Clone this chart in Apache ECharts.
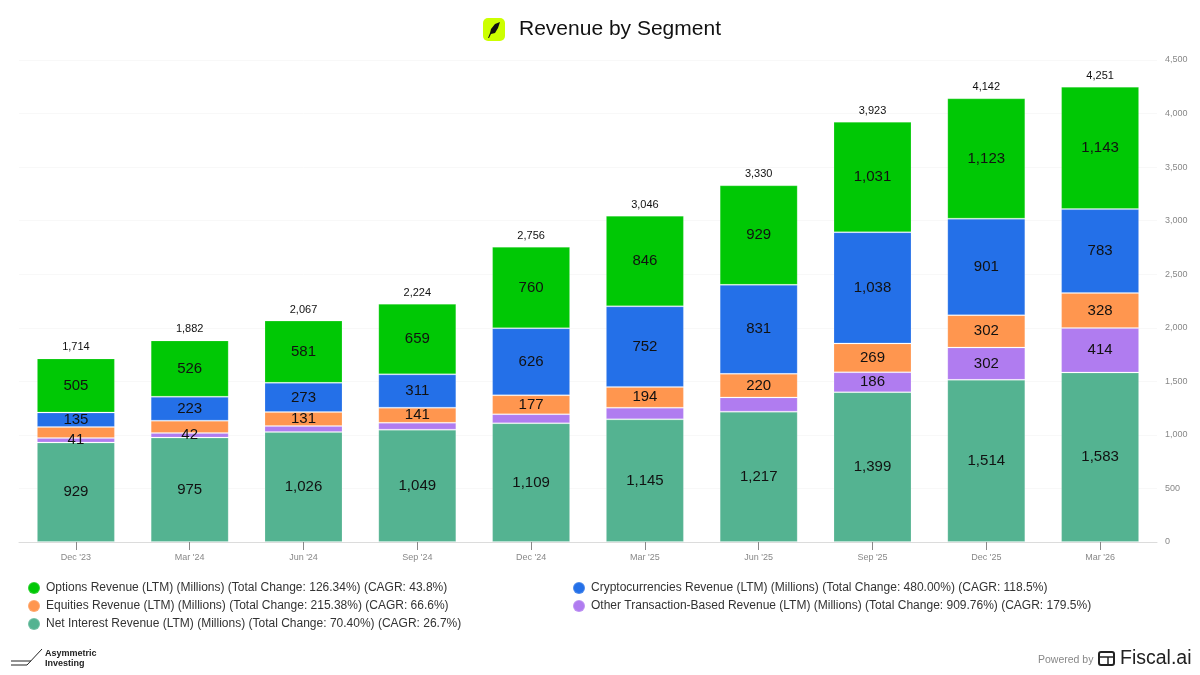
<!DOCTYPE html>
<html><head><meta charset="utf-8">
<style>html,body{margin:0;padding:0;background:#fff}#c{width:1200px;height:675px}</style>
<script src="https://cdn.jsdelivr.net/npm/echarts@6/dist/echarts.min.js"></script>
</head><body><div id="c"></div>
<script>
const categories = ["Dec '23","Mar '24","Jun '24","Sep '24","Dec '24","Mar '25","Jun '25","Sep '25","Dec '25","Mar '26"];
const netInterest = [929,975,1026,1049,1109,1145,1217,1399,1514,1583];
const otherTx = [41,42,56,64,84,109,133,186,302,414];
const equities = [104,116,131,141,177,194,220,269,302,328];
const crypto = [135,223,273,311,626,752,831,1038,901,783];
const options = [505,526,581,659,760,846,929,1031,1123,1143];
const totals = [1714,1882,2067,2224,2756,3046,3330,3923,4142,4251];
const hiddenOther = [2,3,4,5,6];
const hiddenEquities = [0,1];
const names = {
  options:"Options Revenue (LTM) (Millions) (Total Change: 126.34%) (CAGR: 43.8%)",
  crypto:"Cryptocurrencies Revenue (LTM) (Millions) (Total Change: 480.00%) (CAGR: 118.5%)",
  equities:"Equities Revenue (LTM) (Millions) (Total Change: 215.38%) (CAGR: 66.6%)",
  other:"Other Transaction-Based Revenue (LTM) (Millions) (Total Change: 909.76%) (CAGR: 179.5%)",
  net:"Net Interest Revenue (LTM) (Millions) (Total Change: 70.40%) (CAGR: 26.7%)"
};
const colors = {options:"#00c805",crypto:"#2470e8",equities:"#ff964f",other:"#b07cf0",net:"#54b391"};
const FONT = "'Liberation Sans', Arial, sans-serif";
const fmt = v => v.toLocaleString('en-US');
function bar(name,color,values,hidden){
  return {
    name,type:'bar',stack:'rev',barWidth:78,
    itemStyle:{color,borderColor:'rgba(255,255,255,0.18)',borderWidth:1},
    label:{show:true,position:'inside',fontFamily:FONT,fontSize:15,color:'#111',formatter:p=>fmt(p.value)},
    data:values.map((v,i)=>hidden.includes(i)?{value:v,label:{show:false}}:v)
  };
}
function leg(name,left,top){
  return {data:[name],left,top,icon:'circle',itemWidth:12,itemHeight:12,itemGap:0,padding:0,
    selectedMode:false,textStyle:{fontFamily:FONT,fontSize:12,color:'#333',padding:[0,0,0,1]}};
}
const chart = echarts.init(document.getElementById('c'),null,{renderer:'canvas'});
chart.setOption({
  animation:false,backgroundColor:'#fff',
  title:{text:'Revenue by Segment',left:519,top:19,padding:0,textStyle:{fontFamily:FONT,fontWeight:'normal',fontSize:21,color:'#111'}},
  grid:{left:19,right:43,top:60,bottom:133,containLabel:false},
  legend:[leg(names.options,27,581),leg(names.crypto,572,581),leg(names.equities,27,599),leg(names.other,572,599),leg(names.net,27,617)],
  xAxis:{type:'category',data:categories,
    axisLine:{show:true,lineStyle:{color:'#dcdcdc',width:1}},
    axisTick:{show:true,alignWithLabel:true,length:8,lineStyle:{color:'#888',width:1}},
    axisLabel:{fontFamily:FONT,fontSize:9,color:'#888',margin:11}},
  yAxis:{type:'value',position:'right',min:0,max:4500,interval:500,
    axisLine:{show:false},axisTick:{show:false},
    splitLine:{lineStyle:{color:'#f8f8f8',width:1}},
    axisLabel:{fontFamily:FONT,fontSize:9,color:'#888',margin:8,padding:[3,0,0,0],formatter:v=>fmt(v)}},
  series:[
    bar(names.net,colors.net,netInterest,[]),
    bar(names.other,colors.other,otherTx,hiddenOther),
    bar(names.equities,colors.equities,equities,hiddenEquities),
    bar(names.crypto,colors.crypto,crypto,[]),
    bar(names.options,colors.options,options,[]),
    {name:'Total',type:'line',data:totals,symbol:'circle',symbolSize:1,showSymbol:true,
      lineStyle:{width:0,color:'rgba(0,0,0,0)'},itemStyle:{color:'rgba(0,0,0,0)'},
      label:{show:true,position:'top',distance:5,fontFamily:FONT,fontSize:11,color:'#111',formatter:p=>fmt(p.value)}}
  ],
  graphic:{elements:[
    {type:'rect',shape:{x:483,y:18,width:22,height:23,r:5},style:{fill:'#ccff00'}},
    {type:'polygon',shape:{points:[[500,22],[495,24],[491,29],[490,33],[488,38],[489,38],[491,34],[495,33],[498,28]]},style:{fill:'#111'}},
    {type:'polyline',shape:{points:[[11,665],[27,665],[42,649]]},style:{stroke:'#222',lineWidth:1,fill:'none'}},
    {type:'line',shape:{x1:11,y1:661,x2:31,y2:661},style:{stroke:'#222',lineWidth:1}},
    {type:'text',x:45,y:649,style:{text:'Asymmetric\nInvesting',fontFamily:FONT,fontWeight:'bold',fontSize:9,lineHeight:10,fill:'#222'}},
    {type:'text',x:1038,y:655,style:{text:'Powered by',fontFamily:FONT,fontSize:10.5,fill:'#888'}},
    {type:'rect',shape:{x:1099,y:652,width:15,height:13,r:2},style:{fill:'none',stroke:'#222',lineWidth:2}},
    {type:'line',shape:{x1:1100,y1:657,x2:1114,y2:657},style:{stroke:'#222',lineWidth:1.5}},
    {type:'line',shape:{x1:1108,y1:657,x2:1108,y2:665},style:{stroke:'#222',lineWidth:1.5}},
    {type:'text',x:1120,y:649,style:{text:'Fiscal.ai',fontFamily:FONT,fontSize:19.5,fill:'#222'}}
  ]}
});
</script></body></html>
